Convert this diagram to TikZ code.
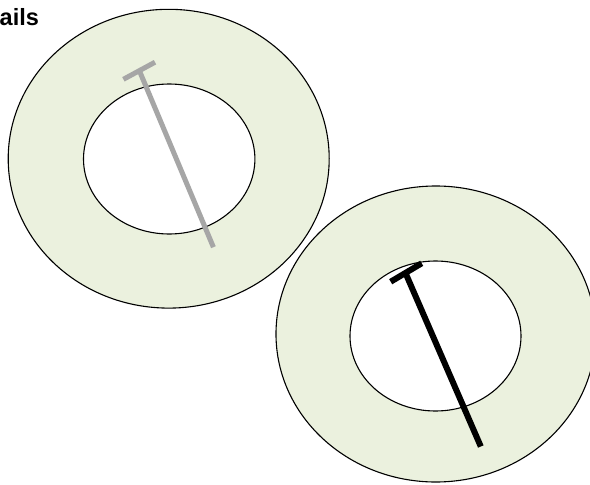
\documentclass[tikz,border=0pt]{standalone}
\usepackage{fontspec}
\setmainfont{Liberation Sans}
\definecolor{ringgreen}{HTML}{EBF1DE}
\definecolor{tgray}{HTML}{A6A6A6}
\begin{document}
\begin{tikzpicture}[x=1pt,y=-1pt,
  ring/.style={fill=ringgreen,draw=black,line width=1.1pt},
  hole/.style={fill=white,draw=black,line width=1.1pt},
  graybar/.style={draw=tgray,line width=5pt},
  blackbar/.style={draw=black,line width=6pt},
  titletext/.style={font=\bfseries\fontsize{23.5}{28}\selectfont,inner sep=0pt,anchor=base west}]
\useasboundingbox (0,0) rectangle (590,485);
\clip (0,0) rectangle (590,485);
\node[titletext] (title) at (-0.5,25.7) {ails};
% upper ring
\draw[ring] (168.7,158.7) ellipse [x radius=160.5pt, y radius=149.4pt];
\draw[hole] (169.2,159) ellipse [x radius=85.7pt, y radius=75pt];
\coordinate (g1) at (123.4,79.3);
\coordinate (g2) at (155,62.2);
\coordinate (g3) at (139.5,71);
\coordinate (g4) at (213.4,247.2);
\draw[graybar] (g1) -- (g2);
\draw[graybar] (g3) -- (g4);
% lower ring
\draw[ring] (435.8,334) ellipse [x radius=159.8pt, y radius=148pt];
\draw[hole] (435.5,336) ellipse [x radius=85.5pt, y radius=75pt];
\coordinate (b1) at (390.7,281.7);
\coordinate (b2) at (421.7,263.3);
\coordinate (b3) at (405.5,273);
\coordinate (b4) at (480.8,446.5);
\draw[blackbar] (b1) -- (b2);
\draw[blackbar] (b3) -- (b4);
\end{tikzpicture}
\end{document}
